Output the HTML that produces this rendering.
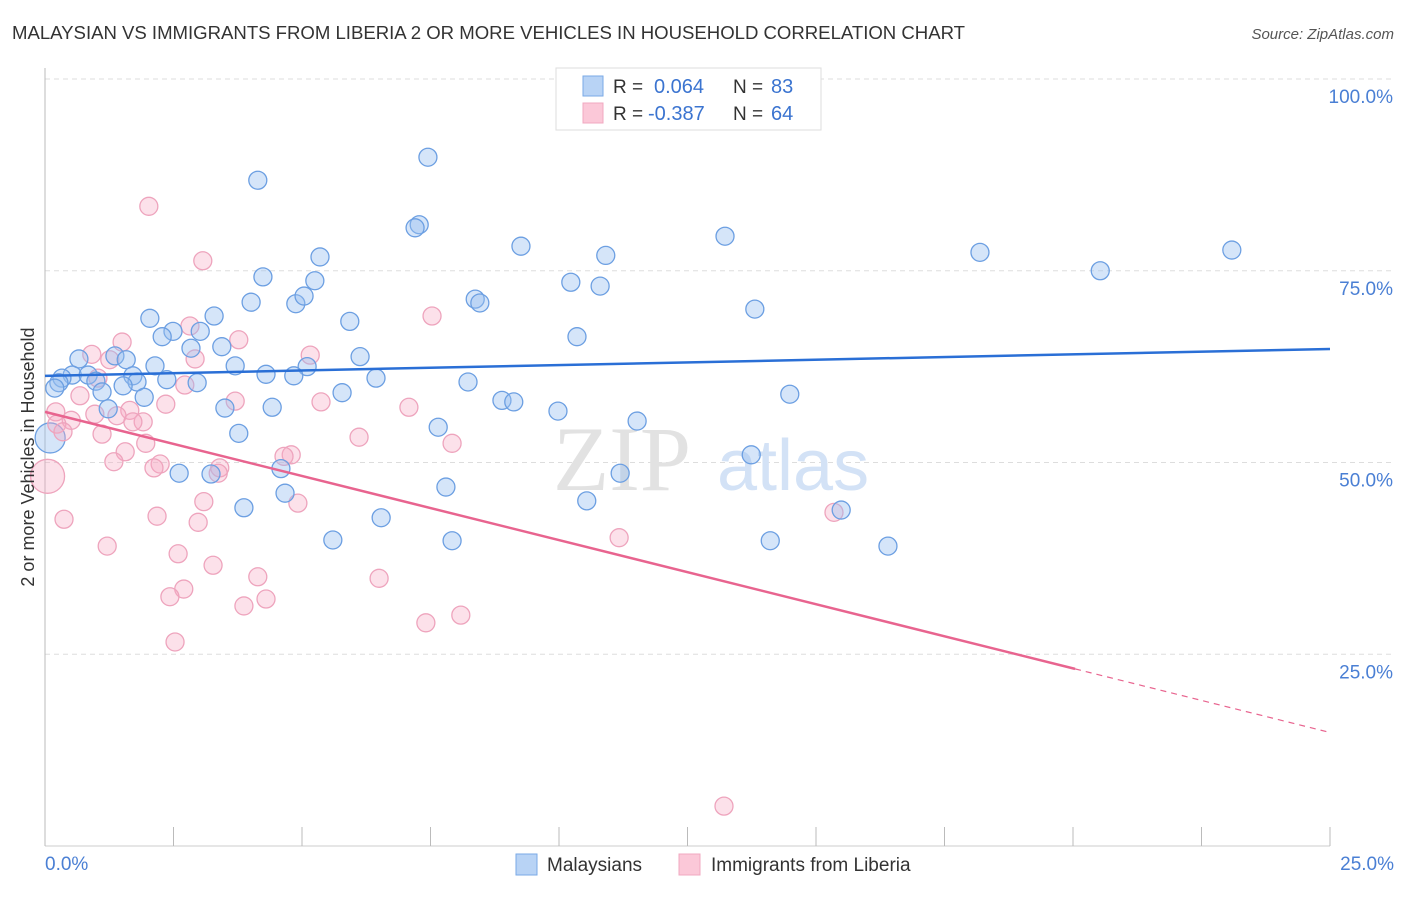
<!DOCTYPE html>
<html><head><meta charset="utf-8"><style>
body{margin:0;background:#fff;font-family:"Liberation Sans",sans-serif}
</style></head><body>
<svg id="chart" width="1406" height="892" xmlns="http://www.w3.org/2000/svg" font-family="Liberation Sans, sans-serif">
<text x="12" y="39" font-size="18.6" fill="#333" textLength="953">MALAYSIAN VS IMMIGRANTS FROM LIBERIA 2 OR MORE VEHICLES IN HOUSEHOLD CORRELATION CHART</text>
<text x="1394" y="39" font-size="15" fill="#555" font-style="italic" text-anchor="end">Source: ZipAtlas.com</text>
<g id="grid"></g>
<text x="553" y="490" font-size="92" fill="#e2e2e2" font-family="Liberation Serif, serif">ZIP</text>
<text x="717" y="490" font-size="72" fill="#d3e2f6">atlas</text>
<g id="pts"></g>
<g id="lines"></g>
<text transform="translate(34,457) rotate(-90)" font-size="18" fill="#333" text-anchor="middle">2 or more Vehicles in Household</text>
<text x="45" y="870" font-size="19" fill="#4a7fd4">0.0%</text>
<text x="1394" y="870" font-size="19" fill="#4a7fd4" text-anchor="end">25.0%</text>
<g>
<rect x="556" y="68" width="265" height="62" fill="#fff" stroke="#ddd"/>
<rect x="583" y="76" width="20" height="20" fill="#b8d3f5" stroke="#7aaae6"/>
<rect x="583" y="103" width="20" height="20" fill="#fbc8d8" stroke="#f0a8c0"/>
<text x="613" y="93" font-size="19" fill="#333">R = </text><text x="654" y="93" font-size="20" fill="#3b74d0">0.064</text>
<text x="733" y="93" font-size="19" fill="#333">N = </text><text x="771" y="93" font-size="20" fill="#3b74d0">83</text>
<text x="613" y="120" font-size="19" fill="#333">R = </text><text x="648" y="120" font-size="20" fill="#3b74d0">-0.387</text>
<text x="733" y="120" font-size="19" fill="#333">N = </text><text x="771" y="120" font-size="20" fill="#3b74d0">64</text>
</g>
<g>
<rect x="516" y="854" width="21" height="21" fill="#b8d3f5" stroke="#7aaae6"/>
<text x="547" y="871" font-size="19" fill="#333">Malaysians</text>
<rect x="679" y="854" width="21" height="21" fill="#fbc8d8" stroke="#f0a8c0"/>
<text x="711" y="871" font-size="19" fill="#333">Immigrants from Liberia</text>
</g>
</svg>
<script>
const yTicks=[25,50,75,100];
const yTickLabels=["25.0%","50.0%","75.0%","100.0%"];
const xTicks=[0,2.5,5,7.5,10,12.5,15,17.5,20,22.5,25];
const blueX=[7.45,4.14,7.28,7.20,9.26,10.91,13.23,18.19,20.53,23.09,5.35,4.24,5.25,10.23,10.80,4.01,4.88,5.04,8.37,8.46,13.81,2.04,3.29,5.93,2.49,3.02,2.28,2.84,3.44,10.35,0.66,1.36,1.58,2.14,3.70,6.13,5.10,4.30,4.84,0.53,0.33,0.84,0.99,1.71,2.37,1.79,2.96,6.44,8.23,0.27,0.19,1.52,1.11,1.93,5.78,14.49,8.89,9.12,3.50,4.42,1.23,9.98,7.65,11.52,3.77,13.74,4.59,2.61,3.23,11.19,7.80,4.67,10.54,3.87,15.49,6.54,5.60,7.92,14.11,16.40];
const blueY=[89.8,86.8,81.0,80.6,78.2,77.0,79.5,77.4,75.0,77.7,76.8,74.2,73.7,73.5,73.0,70.9,70.7,71.7,71.3,70.8,70.0,68.8,69.1,68.4,67.1,67.1,66.4,64.9,65.1,66.4,63.5,63.9,63.4,62.6,62.6,63.8,62.5,61.5,61.3,61.4,61.0,61.4,60.6,61.3,60.8,60.5,60.4,61.0,60.5,60.4,59.7,60.0,59.2,58.5,59.1,58.9,58.1,57.9,57.1,57.2,57.0,56.7,54.6,55.4,53.8,51.0,49.2,48.6,48.5,48.6,46.8,46.0,45.0,44.1,43.8,42.8,39.9,39.8,39.8,39.1];
const pinkX=[2.02,3.07,7.53,1.50,3.77,2.82,5.16,0.91,2.92,1.26,1.03,2.72,3.70,0.21,0.68,5.37,7.08,2.35,1.65,0.51,0.97,1.40,1.91,0.23,0.35,1.11,1.71,6.11,7.92,1.96,1.56,1.34,2.24,2.12,3.40,3.37,4.79,4.65,3.09,4.92,0.37,2.18,2.98,15.35,1.21,11.17,2.59,3.27,4.14,6.50,2.70,2.43,4.30,3.87,8.09,7.41,2.53,13.21];
const pinkY=[83.4,76.3,69.1,65.7,66.0,67.8,64.0,64.1,63.5,63.4,61.0,60.1,58.0,56.6,58.7,57.9,57.2,57.6,56.8,55.5,56.3,56.1,55.3,55.0,54.0,53.7,55.3,53.3,52.5,52.5,51.4,50.1,49.8,49.3,49.3,48.6,51.0,50.8,44.9,44.7,42.6,43.0,42.2,43.5,39.1,40.2,38.1,36.6,35.1,34.9,33.5,32.5,32.2,31.3,30.1,29.1,26.6,5.2];
const bigBlue=[0.1,53.2];
const bigPink=[0.05,48.2];
const blueTrend=[61.3,64.8];
const pinkTrend=[56.6,14.8];
const pinkSolidEnd=20.04;
const X=v=>45+v/25*1285, Y=v=>846-v/100*767;
const NS="http://www.w3.org/2000/svg";
function mk(p,t,a){const e=document.createElementNS(NS,t);for(const k in a)e.setAttribute(k,a[k]);p.appendChild(e);return e;}
const grid=document.getElementById('grid');
mk(grid,'line',{x1:45,y1:Y(100),x2:1394,y2:Y(100),stroke:'#ddd','stroke-dasharray':'5,4'});
yTicks.forEach((t,i)=>{
 const l=mk(grid,'line',{x1:45,y1:Y(t),x2:1394,y2:Y(t),stroke:'#ddd','stroke-dasharray':'5,4'});
 
 
 const tx=mk(grid,'text',{x:1393,y:Y(t)+24,'font-size':19,fill:'#4a7fd4','text-anchor':'end'});
 tx.textContent=yTickLabels[i];
 
 
});
const ax=mk(grid,'line',{x1:45,y1:68,x2:45,y2:846,stroke:'#bbb'});


const bx=mk(grid,'line',{x1:45,y1:846,x2:1330,y2:846,stroke:'#ccc'});


xTicks.forEach(t=>{
 const l=mk(grid,'line',{x1:X(t),y1:827,x2:X(t),y2:846,stroke:'#bbb'});
 
 
});
const pts=document.getElementById('pts');
function dot(x,y,r,blue){
 const c=mk(pts,'circle',{cx:X(x),cy:Y(y),r:r,fill:blue?'rgba(150,190,240,0.4)':'rgba(246,170,196,0.35)',stroke:blue?'#6c9fe2':'#eea4bd','stroke-width':1.3});
 
 
}
dot(bigPink[0],bigPink[1],17,false);
dot(bigBlue[0],bigBlue[1],15,true);
pinkX.forEach((x,i)=>dot(x,pinkY[i],9,false));
blueX.forEach((x,i)=>dot(x,blueY[i],9,true));
const lines=document.getElementById('lines');
const b=mk(lines,'line',{x1:X(0),y1:Y(blueTrend[0]),x2:X(25),y2:Y(blueTrend[1]),stroke:'#2a6fd6','stroke-width':2.5});


const py=x=>pinkTrend[0]+(pinkTrend[1]-pinkTrend[0])*x/25;
const p=mk(lines,'line',{x1:X(0),y1:Y(py(0)),x2:X(pinkSolidEnd),y2:Y(py(pinkSolidEnd)),stroke:'#e8648f','stroke-width':2.5});


const pd=mk(lines,'line',{x1:X(pinkSolidEnd),y1:Y(py(pinkSolidEnd)),x2:X(25),y2:Y(py(25)),stroke:'#e8648f','stroke-width':1.2,'stroke-dasharray':'6,5'});


</script>
</body></html>
